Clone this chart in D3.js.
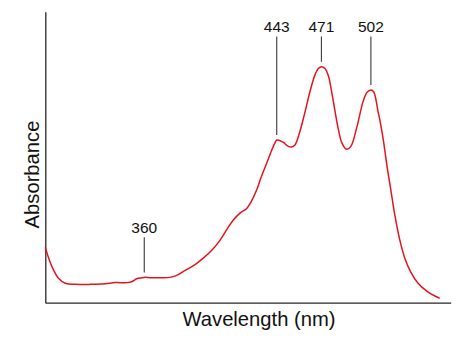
<!DOCTYPE html>
<html>
<head>
<meta charset="utf-8">
<script src="https://cdn.jsdelivr.net/npm/d3@7"></script>
<style>
  html, body { margin: 0; padding: 0; background: #fff; }
  svg { display: block; font-family: "Liberation Sans", Arial, sans-serif; }
</style>
</head>
<body>
<svg id="chart" width="474" height="348"></svg>
<script>
// Absorption spectrum: wavelength (nm) and relative absorbance
const wavelength = [
  298, 300.5, 303.2, 306.1, 310.5, 316.8, 326.2, 335.5, 341.8, 349.3,
  352.4, 355.6, 360, 363.7, 369.9, 376.2, 380.0, 385.6, 391.8, 397.0,
  402.5, 407.5, 411.9, 415.8, 420.0, 424.2, 426.9, 430.4, 433.1, 436.7,
  439.4, 441.9, 443, 446.9, 450.0, 452.3, 454.4, 457.5, 460.7, 463.8,
  466.9, 469.1, 471, 473.2, 475.4, 477.4, 479.4, 481.5, 483.8, 486.8,
  489.5, 493.0, 497.1, 499.5, 502, 503.8, 506.5, 507.6, 509.8, 512.0,
  514.5, 517.0, 520.1, 523.2, 527.0, 531.4, 537.0, 542.1, 545.1
];
const absorbance = [
  0.190, 0.147, 0.112, 0.085, 0.067, 0.063, 0.063, 0.065, 0.069, 0.069,
  0.073, 0.083, 0.087, 0.086, 0.086, 0.087, 0.093, 0.111, 0.131, 0.153,
  0.181, 0.215, 0.253, 0.284, 0.308, 0.324, 0.346, 0.387, 0.429, 0.479,
  0.518, 0.549, 0.559, 0.552, 0.538, 0.535, 0.542, 0.588, 0.655, 0.725,
  0.782, 0.805, 0.811, 0.805, 0.779, 0.725, 0.662, 0.599, 0.549, 0.527,
  0.538, 0.599, 0.691, 0.722, 0.731, 0.724, 0.656, 0.628, 0.559, 0.473,
  0.387, 0.301, 0.216, 0.154, 0.105, 0.068, 0.040, 0.023, 0.015
];

// Annotated absorption maxima and the level where each label sits
const peakLabels = ["360", "443", "471", "502"];
const peakWavelength = [360, 443, 471, 502];
const peakAbsorbance = [0.087, 0.559, 0.811, 0.731];
const labelLevel = [0.225, 0.915, 0.915, 0.915];

const xTitle = "Wavelength (nm)";
const yTitle = "Absorbance";

const svg = d3.select("#chart");
const plotLeft = 45.3, plotRight = 450.7, plotTop = 11.7, plotBottom = 302.7;

const x = d3.scaleLinear().domain([298, 552]).range([plotLeft, plotRight]);
const y = d3.scaleLinear().domain([0, 1]).range([plotBottom, plotTop]);

// Axes: plain lines, no ticks
const axisColor = "#262626";
svg.append("g")
  .attr("transform", `translate(0,${plotBottom})`)
  .call(d3.axisBottom(x).tickValues([]).tickSizeOuter(0))
  .call(g => g.select(".domain").attr("stroke", axisColor).attr("stroke-width", 1.3));
svg.append("g")
  .attr("transform", `translate(${plotLeft},0)`)
  .call(d3.axisLeft(y).tickValues([]).tickSizeOuter(0))
  .call(g => g.select(".domain").attr("stroke", axisColor).attr("stroke-width", 1.3));

// Spectrum curve
const pts = wavelength.map((w, i) => [w, absorbance[i]]);
svg.append("path")
  .datum(pts)
  .attr("fill", "none")
  .attr("stroke", "#e5141c")
  .attr("stroke-width", 1.5)
  .attr("stroke-linejoin", "round")
  .attr("d", d3.line()
    .x(d => x(d[0]))
    .y(d => y(d[1]))
    .curve(d3.curveCatmullRom.alpha(0.5)));

// Peak annotations
const peaks = peakLabels.map((t, i) => ({
  t, w: peakWavelength[i], a: peakAbsorbance[i], lv: labelLevel[i]
}));
const pk = svg.append("g").selectAll("g").data(peaks).join("g");
pk.append("line")
  .attr("x1", d => x(d.w)).attr("x2", d => x(d.w))
  .attr("y1", d => y(d.lv))
  .attr("y2", d => y(d.a) - 5)
  .attr("stroke", "#3a3a3a")
  .attr("stroke-width", 1.1);
pk.append("text")
  .attr("x", d => x(d.w))
  .attr("y", d => y(d.lv) - 4)
  .attr("text-anchor", "middle")
  .attr("font-size", "15.5px")
  .attr("fill", "#111")
  .text(d => d.t);

// Axis titles
svg.append("text")
  .attr("x", (plotLeft + plotRight) / 2 + 11)
  .attr("y", 326)
  .attr("text-anchor", "middle")
  .attr("font-size", "20.2px")
  .attr("fill", "#111")
  .text(xTitle);
svg.append("text")
  .attr("transform", `translate(39,174.5) rotate(-90)`)
  .attr("text-anchor", "middle")
  .attr("font-size", "20.2px")
  .attr("fill", "#111")
  .text(yTitle);
</script>
</body>
</html>
